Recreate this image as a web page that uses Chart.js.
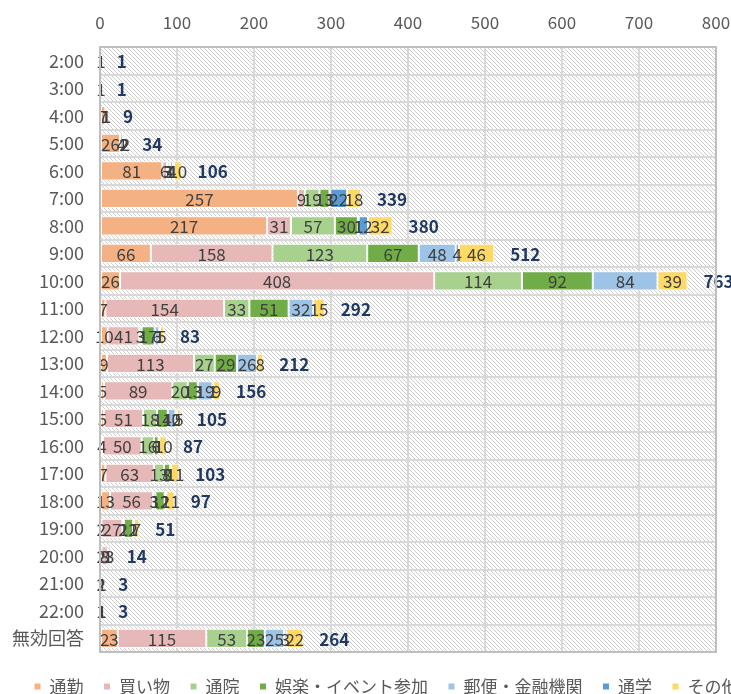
<!DOCTYPE html>
<html>
<head>
<meta charset="utf-8">
<script src="https://cdn.jsdelivr.net/npm/chart.js@4"></script>
<style>
    html, body { margin: 0; padding: 0; background: #fff; overflow: hidden; }
    #wrap { width: 790px; height: 694px; }
</style>
</head>
<body>
<div id="wrap"><canvas id="tripChart" width="790" height="694"></canvas></div>
<script>
const categories = ['2:00', '3:00', '4:00', '5:00', '6:00', '7:00', '8:00', '9:00', '10:00', '11:00', '12:00',
    '13:00', '14:00', '15:00', '16:00', '17:00', '18:00', '19:00', '20:00', '21:00', '22:00', '無効回答'];

const commute = [null, null, 7, 26, 81, 257, 217, 66, 26, 7, 10, 9, 5, 5, 4, 7, 13, 2, 2, null, 1, 23];
const shopping = [1, 1, 1, 4, 6, 9, 31, 158, 408, 154, 41, 113, 89, 51, 50, 63, 56, 27, 8, 2, 1, 115];
const hospital = [null, null, 1, 2, 3, 19, 57, 123, 114, 33, 3, 27, 20, 18, 16, 13, 3, 2, 1, 1, null, 53];
const leisure = [null, null, null, null, 1, 13, 30, 67, 92, 51, 17, 29, 13, 14, 6, 8, 12, 12, 3, null, null, 23];
const postal = [null, null, null, null, 4, 1, 1, 48, 84, 32, 6, 26, 19, 10, 1, 1, 2, 1, null, null, null, 25];
const school = [null, null, null, null, 1, 22, 12, 4, null, null, 1, null, 1, 2, null, null, null, null, null, null, null, 3];
const other = [null, null, null, 2, 10, 18, 32, 46, 39, 15, 5, 8, 9, 5, 10, 11, 11, 7, null, null, 1, 22];

const xTicks = [0, 100, 200, 300, 400, 500, 600, 700, 800];

const seriesNames = ['通勤', '買い物', '通院', '娯楽・イベント参加', '郵便・金融機関', '通学', 'その他'];
const seriesValues = [commute, shopping, hospital, leisure, postal, school, other];
const seriesColors = ['#F4B183', '#E6B9B8', '#A9D18E', '#70AD47', '#9DC3E6', '#5B9BD5', '#FFD966'];

const totals = categories.map((c, i) => seriesValues.reduce((s, arr) => s + (arr[i] || 0), 0));

const FONT = '"Noto Sans CJK JP", "Noto Sans", sans-serif';

// diagonal hatch for the plot area
function makeHatch(ctx) {
    const tile = document.createElement('canvas');
    tile.width = 4;
    tile.height = 4;
    const t = tile.getContext('2d');
    t.fillStyle = '#ffffff';
    t.fillRect(0, 0, 4, 4);
    t.fillStyle = '#cccccc';
    for (let i = 0; i < 4; i++) t.fillRect(i, i, 1, 1);
    return ctx.createPattern(tile, 'repeat');
}

const hatchPlugin = {
    id: 'hatch',
    beforeDraw(chart) {
        const { ctx, chartArea: a } = chart;
        ctx.save();
        ctx.fillStyle = makeHatch(ctx);
        ctx.fillRect(a.left, a.top, a.right - a.left, a.bottom - a.top);
        ctx.restore();
    },
    afterDraw(chart) {
        const { ctx, chartArea: a } = chart;
        ctx.save();
        ctx.strokeStyle = '#bfbfbf';
        ctx.lineWidth = 2;
        ctx.strokeRect(a.left, a.top, a.right - a.left, a.bottom - a.top);
        ctx.restore();
    }
};

// legend runs off the right edge in the original, keep it on one line
const legendPlugin = {
    id: 'oneLineLegend',
    beforeLayout(chart) {
        const legend = chart.legend;
        if (!legend || legend._patched) return;
        const origFit = legend.fit;
        legend.fit = function () {
            const mw = this.maxWidth;
            this.maxWidth = 2000;
            origFit.call(this);
            this.maxWidth = mw;
            this.width = mw;
            this.height = 42;
        };
        legend._patched = true;
    },
    afterLayout(chart) {
        const legend = chart.legend;
        legend.left = 14;
        legend.right = 2000;
        legend.top = chart.chartArea.bottom + 6;
        legend.bottom = legend.top + 42;
    }
};

const labelPlugin = {
    id: 'valueLabels',
    afterDatasetsDraw(chart) {
        const ctx = chart.ctx;
        ctx.save();
        ctx.textBaseline = 'middle';
        ctx.textAlign = 'center';
        ctx.font = '17px ' + FONT;
        ctx.fillStyle = '#404040';
        chart.data.datasets.forEach((ds, di) => {
            const meta = chart.getDatasetMeta(di);
            meta.data.forEach((bar, i) => {
                const v = ds.data[i];
                if (v === null || v === undefined) return;
                ctx.fillText(String(v), (bar.x + bar.base) / 2, bar.y + 1);
            });
        });
        // totals at the end of each stack
        const xScale = chart.scales.x;
        const yScale = chart.scales.y;
        ctx.textAlign = 'left';
        ctx.font = 'bold 17px ' + FONT;
        ctx.fillStyle = '#203864';
        totals.forEach((t, i) => {
            ctx.fillText(String(t), xScale.getPixelForValue(t) + 16, yScale.getPixelForValue(i) + 1);
        });
        ctx.restore();
    }
};

new Chart(document.getElementById('tripChart'), {
    type: 'bar',
    data: {
        labels: categories,
        datasets: seriesNames.map((name, i) => ({
            label: name,
            data: seriesValues[i],
            backgroundColor: seriesColors[i],
            borderColor: '#ffffff',
            borderWidth: 1,
            borderSkipped: false,
            categoryPercentage: 1,
            barPercentage: 0.7
        }))
    },
    options: {
        indexAxis: 'y',
        responsive: false,
        animation: false,
        layout: {
            padding: { left: 0, right: 74, top: 0, bottom: 0 }
        },
        scales: {
            x: {
                position: 'top',
                stacked: true,
                min: 0,
                max: 800,
                afterBuildTicks: (scale) => { scale.ticks = xTicks.map(v => ({ value: v })); },
                afterFit: (scale) => { scale.height = 47; },
                border: { display: false },
                grid: { color: '#d9d9d9', lineWidth: 2, drawTicks: false },
                ticks: {
                    color: '#595959',
                    padding: 14,
                    font: { family: FONT, size: 17 }
                }
            },
            y: {
                stacked: true,
                afterFit: (scale) => { scale.width = 100; },
                border: { display: false },
                grid: { color: '#d9d9d9', lineWidth: 2, offset: true, drawTicks: false },
                ticks: {
                    color: '#595959',
                    padding: 16,
                    font: { family: FONT, size: 18 }
                }
            }
        },
        plugins: {
            legend: {
                position: 'bottom',
                align: 'start',
                labels: {
                    color: '#595959',
                    font: { family: FONT, size: 17 },
                    usePointStyle: true,
                    pointStyle: 'rect',
                    boxWidth: 7,
                    boxHeight: 7,
                    padding: 20
                }
            },
            tooltip: { enabled: false }
        }
    },
    plugins: [legendPlugin, hatchPlugin, labelPlugin]
});
</script>
</body>
</html>
